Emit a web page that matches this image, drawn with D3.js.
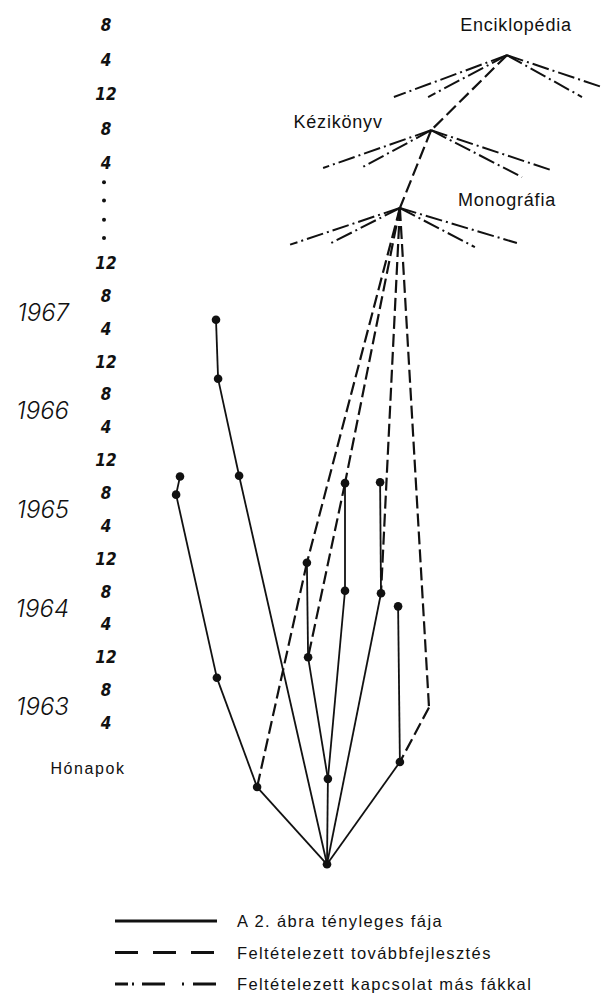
<!DOCTYPE html>
<html><head><meta charset="utf-8">
<script src="https://cdn.jsdelivr.net/npm/d3@7"></script>
<style>
html,body{margin:0;padding:0;background:#fff;}
svg{display:block;}
</style></head>
<body>
<script>
// ---- data ----
// lower month ticks: month index counted from Jan 1963 (1963-04 -> 4)
const lowerTickMonths = [4, 8, 12, 16, 20, 24, 28, 32, 36, 40, 44, 48, 52, 56, 60];
const lowerTickLabels = ["4","8","12","4","8","12","4","8","12","4","8","12","4","8","12"];
// ticks above the axis break
const upperTickMonths = [72, 76, 80, 84, 88];
const upperTickLabels = ["4","8","12","4","8"];
const breakDotMonths = [63, 65.2, 67.5, 69.7];
const years = [1963, 1964, 1965, 1966, 1967];

// tree nodes: lane (horizontal position unit), month (time)
const nodes = [
  {id:"R",  lane:59,   month:-13.2, dot:true},
  {id:"N",  lane:35.7, month:-3.8,  dot:true},
  {id:"O",  lane:59.3, month:-2.8,  dot:true},
  {id:"P",  lane:83.3, month:-0.75, dot:true},
  {id:"Q",  lane:93,   month:5.9,   dot:false},
  {id:"M",  lane:22.3, month:9.5,   dot:true},
  {id:"L",  lane:52.7, month:12.0,  dot:true},
  {id:"K",  lane:82.7, month:18.2,  dot:true},
  {id:"J",  lane:77,   month:19.8,  dot:true},
  {id:"I",  lane:65,   month:20.1,  dot:true},
  {id:"H",  lane:52.3, month:23.5,  dot:true},
  {id:"E",  lane:8.7,  month:31.8,  dot:true},
  {id:"F",  lane:65,   month:33.2,  dot:true},
  {id:"G",  lane:76.7, month:33.3,  dot:true},
  {id:"C",  lane:29.7, month:34.1,  dot:true},
  {id:"D",  lane:10,   month:34.0,  dot:true},
  {id:"B",  lane:22.7, month:45.9,  dot:true},
  {id:"A",  lane:22,   month:53.1,  dot:true},
  {id:"Mono", lane:83.3,  month:66.6, dot:false},
  {id:"Kez",  lane:93.7,  month:75.8, dot:false},
  {id:"Enc",  lane:119,   month:84.5, dot:false}
];
const solidEdges = [
  ["R","N"],["N","M"],["M","E"],["E","D"],
  ["R","C"],["C","B"],["B","A"],
  ["R","O"],["O","L"],["L","H"],["O","I"],["I","F"],
  ["R","J"],["J","G"],["R","P"],["P","K"]
];
const dashedEdges = [
  ["Enc","Kez"],["Kez","Mono"],
  ["Mono","H"],["H","N"],
  ["Mono","F"],["F","L"],
  ["Mono","J"],
  ["Mono","Q"],["Q","P"]
];
// connections to other trees (rays)
const rays = [
  {from:"Enc", lane:81.3,  month:79.65},
  {from:"Enc", lane:92.7,  month:79.65},
  {from:"Enc", lane:144,   month:79.65},
  {from:"Enc", lane:156.7, month:80.1},
  {from:"Kez", lane:57.7,  month:71.4},
  {from:"Kez", lane:70.3,  month:71.4},
  {from:"Kez", lane:124,   month:70.3},
  {from:"Kez", lane:133.3, month:71.2},
  {from:"Mono", lane:46.7,  month:62.2},
  {from:"Mono", lane:59.3,  month:62.2},
  {from:"Mono", lane:108.3, month:61.9},
  {from:"Mono", lane:122.3, month:62.4}
];
const nodeLabels = [
  {node:"Enc",  text:"Enciklopédia", dLane:3,   dMonth:3.5},
  {node:"Kez",  text:"Kézikönyv",    dLane:-31, dMonth:0.9},
  {node:"Mono", text:"Monográfia",   dLane:35.7, dMonth:0.95}
];
const legendItems = [
  {text:"A 2. ábra tényleges fája", kind:"solid"},
  {text:"Feltételezett továbbfejlesztés", kind:"dashed"},
  {text:"Feltételezett kapcsolat más fákkal", kind:"dashdot"}
];

// ---- drawing ----
const W = 603, H = 993;
const svg = d3.select("body").append("svg").attr("width", W).attr("height", H);
svg.append("rect").attr("width", W).attr("height", H).attr("fill", "#fff");

const y = d3.scaleLinear().domain([4, 60, 72, 88]).range([723, 263, 163, 25]);
const x = d3.scaleLinear().domain([0, 100]).range([150, 450]);
const byId = new Map(nodes.map(d => [d.id, d]));
const px = d => x(d.lane), py = d => y(d.month);

const ink = "#111";
const tickFont = "'Liberation Sans Narrow','DejaVu Sans Condensed',sans-serif";

// month axis labels
const tickX = 106;
const allTicks = lowerTickMonths.map((m,i)=>({m, t:lowerTickLabels[i]}))
  .concat(upperTickMonths.map((m,i)=>({m, t:upperTickLabels[i]})));
svg.append("g").selectAll("text").data(allTicks).join("text")
  .attr("x", tickX).attr("y", d => y(d.m))
  .attr("text-anchor", "middle").attr("dominant-baseline", "central")
  .attr("font-family", tickFont).attr("font-style", "italic").attr("font-weight", "bold")
  .attr("font-size", 17).attr("fill", ink)
  .text(d => d.t);
svg.append("g").selectAll("circle").data(breakDotMonths).join("circle")
  .attr("cx", tickX - 2).attr("cy", d => y(d)).attr("r", 2).attr("fill", ink);

// year labels
svg.append("g").selectAll("text").data(years).join("text")
  .attr("x", 69).attr("y", d => y((d - 1963) * 12 + 6))
  .attr("text-anchor", "end").attr("dominant-baseline", "central")
  .attr("font-family", "Inter,'DejaVu Sans',sans-serif").attr("font-weight", 300)
  .attr("font-style", "italic").attr("font-size", 24).attr("fill", ink)
  .text(d => d);

svg.append("text").attr("x", 88).attr("y", y(-1.5))
  .attr("text-anchor", "middle").attr("dominant-baseline", "central")
  .attr("font-family", "'Liberation Sans',Arial,sans-serif").attr("font-size", 16)
  .attr("letter-spacing", 1.6).attr("fill", ink).text("Hónapok");

// rays (dash-dot)
svg.append("g").selectAll("line").data(rays).join("line")
  .attr("x1", d => px(byId.get(d.from))).attr("y1", d => py(byId.get(d.from)))
  .attr("x2", d => x(d.lane)).attr("y2", d => y(d.month))
  .attr("stroke", ink).attr("stroke-width", 2)
  .attr("stroke-dasharray", "17,4,2,4");

// dashed edges
svg.append("g").selectAll("line").data(dashedEdges).join("line")
  .attr("x1", d => px(byId.get(d[0]))).attr("y1", d => py(byId.get(d[0])))
  .attr("x2", d => px(byId.get(d[1]))).attr("y2", d => py(byId.get(d[1])))
  .attr("stroke", ink).attr("stroke-width", 2.2)
  .attr("stroke-dasharray", "13,5");

// solid edges
svg.append("g").selectAll("line").data(solidEdges).join("line")
  .attr("x1", d => px(byId.get(d[0]))).attr("y1", d => py(byId.get(d[0])))
  .attr("x2", d => px(byId.get(d[1]))).attr("y2", d => py(byId.get(d[1])))
  .attr("stroke", ink).attr("stroke-width", 1.8);

// node dots
svg.append("g").selectAll("circle").data(nodes.filter(d => d.dot)).join("circle")
  .attr("cx", px).attr("cy", py).attr("r", 4.3).attr("fill", ink);

// node labels
svg.append("g").selectAll("text").data(nodeLabels).join("text")
  .attr("x", d => x(byId.get(d.node).lane + d.dLane))
  .attr("y", d => y(byId.get(d.node).month + d.dMonth))
  .attr("text-anchor", "middle").attr("dominant-baseline", "central")
  .attr("font-family", "'Liberation Sans',Arial,sans-serif").attr("font-size", 18)
  .attr("letter-spacing", 0.8).attr("fill", ink)
  .text(d => d.text);

// legend
const lg = svg.append("g");
const legY = d3.scalePoint().domain(legendItems.map(d => d.text)).range([921, 984]);
const dashFor = {solid:null, dashed:"23,15", dashdot:"13,4,2,8,23,17,2,9,23"};
lg.selectAll("line").data(legendItems).join("line")
  .attr("x1", 115).attr("x2", 217)
  .attr("y1", d => legY(d.text)).attr("y2", d => legY(d.text))
  .attr("stroke", ink).attr("stroke-width", 3)
  .attr("stroke-dasharray", d => dashFor[d.kind]);
lg.selectAll("text").data(legendItems).join("text")
  .attr("x", 237).attr("y", d => legY(d.text))
  .attr("dominant-baseline", "central")
  .attr("font-family", "'Liberation Sans',Arial,sans-serif").attr("font-size", 16.5)
  .attr("letter-spacing", 1.4).attr("fill", ink)
  .text(d => d.text);
</script>
</body></html>
